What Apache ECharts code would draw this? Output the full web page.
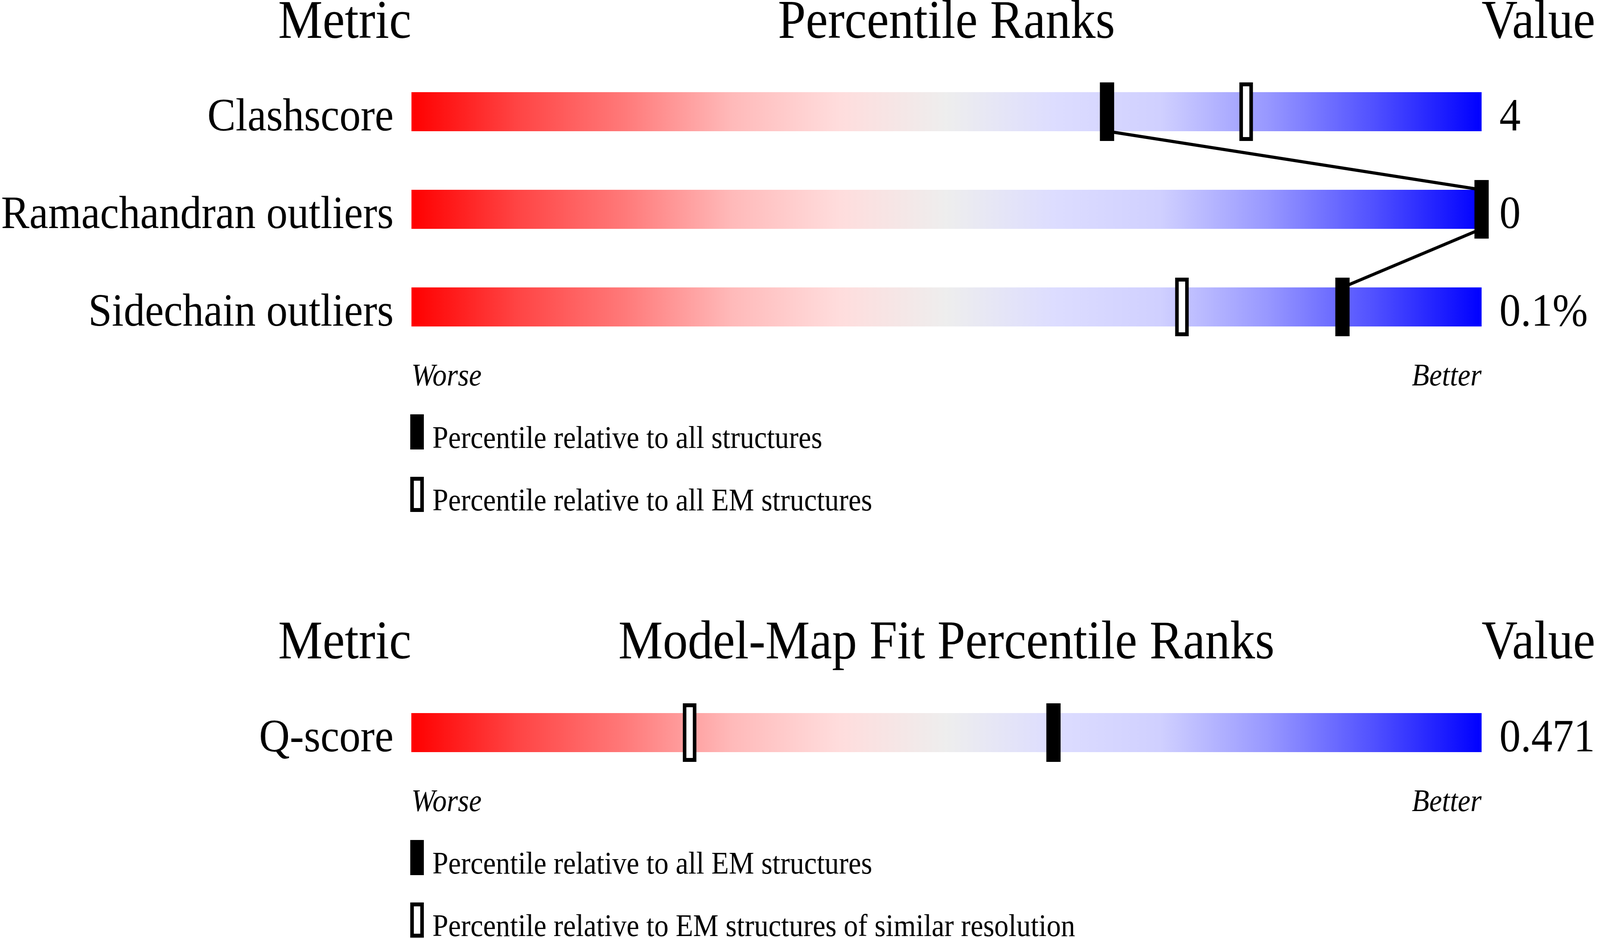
<!DOCTYPE html>
<html>
<head>
<meta charset="utf-8">
<title>Percentile Ranks</title>
<script src="https://cdn.jsdelivr.net/npm/echarts@6/dist/echarts.min.js"></script>
<style>
    html, body { margin: 0; padding: 0; background: #fff; overflow: hidden; }
    #chart { width: 4485px; height: 2402px; transform-origin: 0 0; }
</style>
</head>
<body>
<div id="chart"></div>
<script>
// 上面  几何质量
var metrics = ['Clashscore', 'Ramachandran outliers', 'Sidechain outliers'];
var metricValues = ['4', '0', '0.1%'];
var pctAll = [65, 100, 87];   // 实心  all structures
var pctEM = [78, 100, 72];    // 空心  all EM structures

// 下面  model-map fit
var fitMetrics = ['Q-score'];
var fitValues = ['0.471'];
var fitPctAll = [60];         // 实心  all EM structures
var fitPctSim = [26];         // 空心  similar resolution

var legendTop = ['Percentile relative to all structures', 'Percentile relative to all EM structures'];
var legendBottom = ['Percentile relative to all EM structures', 'Percentile relative to EM structures of similar resolution'];

var FONT = 'Liberation Serif';
var BAR_H = 100;
var W = 4485, H = 2402;

var sliderColor = {
    type: 'linear', x: 0, y: 0, x2: 1, y2: 0,
    colorStops: [
        { offset: 0, color: '#FF0000' },
        { offset: 0.1, color: '#FF4545' },
        { offset: 0.2, color: '#FF7A7A' },
        { offset: 0.3, color: '#FFBABA' },
        { offset: 0.4, color: '#FFDDDD' },
        { offset: 0.5, color: '#EEEEEE' },
        { offset: 0.6, color: '#DDDDFF' },
        { offset: 0.7, color: '#D0D0FF' },
        { offset: 0.8, color: '#9898FF' },
        { offset: 0.9, color: '#5050FF' },
        { offset: 1, color: '#0000FF' }
    ]
};

function full(arr) {
    return arr.map(function () { return 100; });
}
function points(arr) {
    return arr.map(function (v, i) { return [v, i]; });
}
// 相邻两行  实心标记连线
function links(arr) {
    var out = [];
    for (var i = 0; i < arr.length - 1; i++) {
        out.push([arr[i], i, arr[i + 1], i + 1]);
    }
    return out;
}

function text(str, x, y, size, align, italic) {
    return {
        type: 'text',
        silent: true,
        style: {
            text: str, x: x, y: y,
            fontFamily: FONT, fontSize: size,
            fontStyle: italic ? 'italic' : 'normal',
            fill: '#000',
            textAlign: align, align: align,
            textVerticalAlign: 'middle', verticalAlign: 'middle'
        }
    };
}
function legendItem(str, cy, open) {
    var r = open
        ? { type: 'rect', silent: true, shape: { x: 1155, y: cy - 40, width: 28, height: 80 },
            style: { fill: '#fff', stroke: '#000', lineWidth: 10 } }
        : { type: 'rect', silent: true, shape: { x: 1150, y: cy - 45, width: 38, height: 90 },
            style: { fill: '#000' } };
    return [r, text(str, 1212, cy + 20, 80, 'left')];
}

// 文字基线  贴着条的下沿
var labelStyle = { fontFamily: FONT, fontSize: 119, color: '#000', margin: 50, verticalAlign: 'top', lineHeight: 34 };

function yAxes(grid, names, values) {
    return [{
        type: 'category', gridIndex: grid, data: names, inverse: true,
        axisLine: { show: false }, axisTick: { show: false }, splitLine: { show: false },
        axisLabel: labelStyle
    }, {
        type: 'category', gridIndex: grid, data: values, inverse: true, position: 'right',
        axisLine: { show: false }, axisTick: { show: false }, splitLine: { show: false },
        axisLabel: labelStyle
    }];
}

// 标记  竖条
function markerSeries(idx, data, open, z) {
    return {
        type: 'custom', xAxisIndex: idx, yAxisIndex: idx * 2, z: z, silent: true,
        encode: { x: 0, y: 1 },
        data: points(data),
        renderItem: function (params, api) {
            var c = api.coord([api.value(0), api.value(1)]);
            if (open) {
                return {
                    type: 'rect',
                    shape: { x: c[0] - 14, y: c[1] - 70, width: 28, height: 140 },
                    style: { fill: '#fff', stroke: '#000', lineWidth: 10 }
                };
            }
            return {
                type: 'rect',
                shape: { x: c[0] - 20, y: c[1] - 75, width: 40, height: 150 },
                style: { fill: '#000' }
            };
        }
    };
}

function panelSeries(idx, all, other) {
    return [{
        type: 'bar', xAxisIndex: idx, yAxisIndex: idx * 2,
        data: full(all), barWidth: BAR_H, silent: true, z: 2,
        itemStyle: { color: sliderColor }
    }, {
        type: 'custom', xAxisIndex: idx, yAxisIndex: idx * 2, z: 3, silent: true,
        encode: { x: [0, 2], y: [1, 3] },
        data: links(all),
        renderItem: function (params, api) {
            var a = api.coord([api.value(0), api.value(1)]);
            var b = api.coord([api.value(2), api.value(3)]);
            return {
                type: 'line',
                shape: { x1: a[0], y1: a[1] + BAR_H / 2, x2: b[0], y2: b[1] - BAR_H / 2 },
                style: { stroke: '#000', lineWidth: 8 }
            };
        }
    },
        markerSeries(idx, other, true, 4),
        markerSeries(idx, all, false, 5)
    ];
}

var graphics = [
    text('Metric', 1153, 60, 140, 'right'),
    text('Percentile Ranks', 2653, 60, 140, 'center'),
    text('Value', 4153, 60, 140, 'left'),
    text('Worse', 1153, 966, 80, 'left', true),
    text('Better', 4153, 966, 80, 'right', true),
    text('Metric', 1153, 1649, 140, 'right'),
    text('Model-Map Fit Percentile Ranks', 2653, 1649, 140, 'center'),
    text('Value', 4153, 1649, 140, 'left'),
    text('Worse', 1153, 2056, 80, 'left', true),
    text('Better', 4153, 2056, 80, 'right', true)
]
    .concat(legendItem(legendTop[0], 1106, false))
    .concat(legendItem(legendTop[1], 1266, true))
    .concat(legendItem(legendBottom[0], 2196, false))
    .concat(legendItem(legendBottom[1], 2356, true));

var option = {
    backgroundColor: '#fff',
    animation: false,
    grid: [
        { left: 1153, right: 332, top: 161, height: 750 },
        { left: 1153, right: 332, top: 1751, height: 250 }
    ],
    xAxis: [
        { type: 'value', gridIndex: 0, min: 0, max: 100, show: false },
        { type: 'value', gridIndex: 1, min: 0, max: 100, show: false }
    ],
    yAxis: yAxes(0, metrics, metricValues).concat(yAxes(1, fitMetrics, fitValues)),
    series: panelSeries(0, pctAll, pctEM).concat(panelSeries(1, fitPctAll, fitPctSim)),
    graphic: graphics
};

// 窗口比画布窄时  整体缩放到窗口
var box = document.getElementById('chart');
box.style.transform = 'scale(' + (window.innerWidth / W) + ',' + (window.innerHeight / H) + ')';

var chart = echarts.init(box);
chart.setOption(option);
</script>
</body>
</html>
